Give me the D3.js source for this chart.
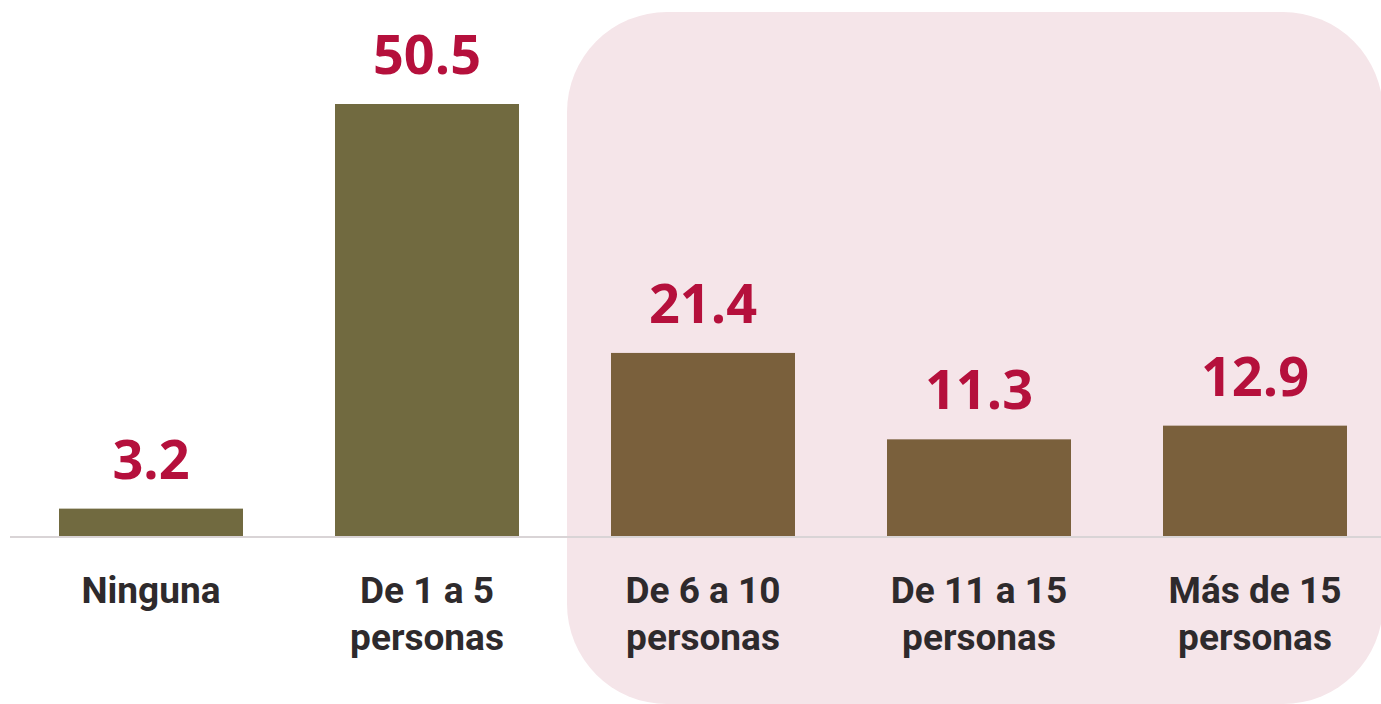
<!DOCTYPE html>
<html><head><meta charset="utf-8">
<script src="https://cdn.jsdelivr.net/npm/d3@7"></script>
<style>html,body{margin:0;padding:0;background:#fff;}svg{display:block;}</style>
</head><body>
<svg id="chart" width="1381" height="704"></svg>
<script>
const categories = [["Ninguna"], ["De 1 a 5", "personas"], ["De 6 a 10", "personas"], ["De 11 a 15", "personas"], ["Más de 15", "personas"]];
const values = [3.2, 50.5, 21.4, 11.3, 12.9];
const barColors = ["#716a40", "#716a40", "#7a603c", "#7a603c", "#7a603c"];

const svg = d3.select("#chart");
const baseY = 536;
const x = d3.scaleBand().domain(d3.range(values.length)).range([13, 1393]).paddingInner(1/3).paddingOuter(1/6);
const y = d3.scaleLinear().domain([0, 50.5]).range([baseY, 104]);

// highlight panel
svg.append("rect").attr("x", 567).attr("y", 12).attr("width", 816).attr("height", 692)
  .attr("rx", 100).attr("fill", "#f5e5e9");

svg.append("line").attr("x1", 10).attr("x2", 1381).attr("y1", baseY + 1).attr("y2", baseY + 1)
  .attr("stroke", "#d9d4d6").attr("stroke-width", 2);

svg.selectAll("rect.bar").data(values).join("rect").attr("class", "bar")
  .attr("x", (d, i) => x(i)).attr("width", x.bandwidth())
  .attr("y", d => y(d)).attr("height", d => baseY - y(d))
  .attr("fill", (d, i) => barColors[i]);

svg.selectAll("text.val").data(values).join("text").attr("class", "val")
  .attr("x", (d, i) => x(i) + x.bandwidth() / 2).attr("y", d => y(d) - 30)
  .attr("text-anchor", "middle").attr("font-family", "'Open Sans', sans-serif")
  .attr("font-weight", 700).attr("font-size", 54).attr("fill", "#b5103c")
  .text(d => d.toFixed(1));

const lab = svg.selectAll("text.cat").data(categories).join("text").attr("class", "cat")
  .attr("x", (d, i) => x(i) + x.bandwidth() / 2).attr("y", 603)
  .attr("text-anchor", "middle").attr("font-family", "Roboto, sans-serif")
  .attr("font-weight", 700).attr("font-size", 37).attr("fill", "#2e2a2c");
lab.selectAll("tspan").data(d => d).join("tspan")
  .attr("x", function() { return d3.select(this.parentNode).attr("x"); })
  .attr("dy", (d, i) => i === 0 ? 0 : 47).text(d => d);
</script>
</body></html>
